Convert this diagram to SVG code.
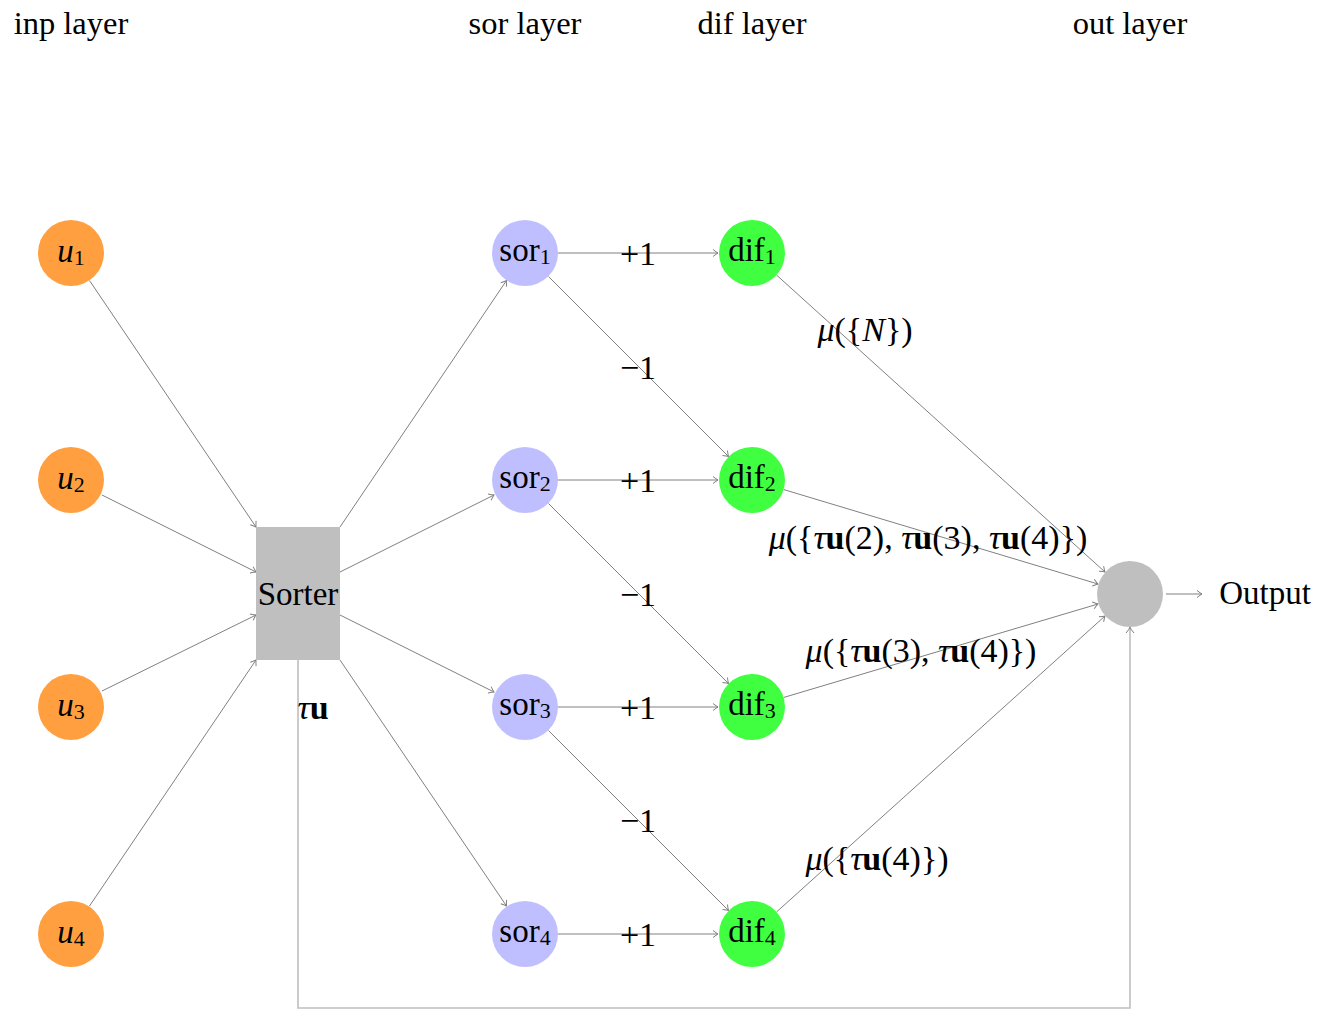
<svg xmlns="http://www.w3.org/2000/svg" width="1336" height="1010" viewBox="0 0 1336 1010">
<style>
text{font-family:"Liberation Serif","Times New Roman",serif;fill:#000;}
.lay{font-size:32.5px;text-anchor:middle;}
.nl{font-size:33px;text-anchor:middle;dominant-baseline:central;}
.el{font-size:34px;text-anchor:middle;dominant-baseline:central;}
.it{font-style:italic;}
.bf{font-weight:bold;}
.e{stroke:#808080;stroke-width:1;fill:none;marker-end:url(#ah);}
.fb{stroke:#bfbfbf;stroke-width:1.6;fill:none;}
.inp{fill:#ff9f40;}
.sor{fill:#bfbfff;}
.dif{fill:#40ff40;}
.gr{fill:#bfbfbf;}
</style>
<defs>
<marker id="ah" viewBox="-6 -5 8 10" refX="0" refY="0" markerWidth="8" markerHeight="10" markerUnits="userSpaceOnUse" orient="auto">
<path d="M-5,-3.5 Q-1.5,-0.8 0,0 Q-1.5,0.8 -5,3.5" fill="none" stroke="#808080" stroke-width="1"/>
</marker>
</defs>
<g id="layer-labels">
<text class="lay" x="71" y="34">inp layer</text>
<text class="lay" x="525" y="34">sor layer</text>
<text class="lay" x="752" y="34">dif layer</text>
<text class="lay" x="1130" y="34">out layer</text>
</g>
<g id="connectors">
<line class="e" x1="89.5" y1="280.5" x2="256" y2="527"/>
<line class="e" x1="102" y1="495" x2="256" y2="572"/>
<line class="e" x1="102" y1="691" x2="256" y2="615"/>
<line class="e" x1="89.5" y1="906" x2="256" y2="660"/>
<line class="e" x1="340" y1="527" x2="506.5" y2="280.5"/>
<line class="e" x1="340" y1="572" x2="494" y2="495"/>
<line class="e" x1="340" y1="615" x2="494" y2="692"/>
<line class="e" x1="340" y1="660" x2="506.5" y2="906"/>
<line class="e" x1="558" y1="253" x2="718" y2="253"/>
<line class="e" x1="558" y1="480" x2="718" y2="480"/>
<line class="e" x1="558" y1="707" x2="718" y2="707"/>
<line class="e" x1="558" y1="934" x2="718" y2="934"/>
<line class="e" x1="548.5" y1="276.5" x2="728.5" y2="456.5"/>
<line class="e" x1="548.5" y1="503.5" x2="728.5" y2="683.5"/>
<line class="e" x1="548.5" y1="730.5" x2="728.5" y2="910.5"/>
<line class="e" x1="776.5" y1="275" x2="1105" y2="572"/>
<line class="e" x1="783.5" y1="489.5" x2="1098" y2="584"/>
<line class="e" x1="783.5" y1="697.5" x2="1098" y2="604"/>
<line class="e" x1="776.5" y1="912" x2="1105" y2="616"/>
<line class="e" x1="1166" y1="594" x2="1202" y2="594"/>
<polyline class="fb" points="298,660 298,1008 1130,1008 1130,628"/>
<path d="M1126,633 Q1129.2,629.5 1130,627 Q1130.8,629.5 1134,633" fill="none" stroke="#808080" stroke-width="1"/>
</g>
<g id="edge-labels">
<text class="el" x="638" y="253">+1</text>
<text class="el" x="638" y="480">+1</text>
<text class="el" x="638" y="707">+1</text>
<text class="el" x="638" y="934">+1</text>
<text class="el" x="638" y="367">−1</text>
<text class="el" x="638" y="594">−1</text>
<text class="el" x="638" y="820">−1</text>
<text class="el" x="865" y="329"><tspan class="it">μ</tspan>({<tspan class="it">N</tspan>})</text>
<text class="el" x="928" y="537"><tspan class="it">μ</tspan>({<tspan class="it">τ</tspan><tspan class="bf">u</tspan>(2), <tspan class="it">τ</tspan><tspan class="bf">u</tspan>(3), <tspan class="it">τ</tspan><tspan class="bf">u</tspan>(4)})</text>
<text class="el" x="921" y="650"><tspan class="it">μ</tspan>({<tspan class="it">τ</tspan><tspan class="bf">u</tspan>(3), <tspan class="it">τ</tspan><tspan class="bf">u</tspan>(4)})</text>
<text class="el" x="877" y="858"><tspan class="it">μ</tspan>({<tspan class="it">τ</tspan><tspan class="bf">u</tspan>(4)})</text>
<text class="el" x="313" y="707"><tspan class="it">τ</tspan><tspan class="bf">u</tspan></text>
</g>
<g id="u1"><circle class="inp" cx="71" cy="253" r="33"/><text class="nl" x="71" y="251"><tspan class="it">u</tspan><tspan font-size="22" dy="6">1</tspan></text></g>
<g id="u2"><circle class="inp" cx="71" cy="480" r="33"/><text class="nl" x="71" y="478"><tspan class="it">u</tspan><tspan font-size="22" dy="6">2</tspan></text></g>
<g id="u3"><circle class="inp" cx="71" cy="707" r="33"/><text class="nl" x="71" y="705"><tspan class="it">u</tspan><tspan font-size="22" dy="6">3</tspan></text></g>
<g id="u4"><circle class="inp" cx="71" cy="934" r="33"/><text class="nl" x="71" y="932"><tspan class="it">u</tspan><tspan font-size="22" dy="6">4</tspan></text></g>
<g id="sorter"><rect class="gr" x="256" y="527" width="84" height="133"/><text class="nl" x="298" y="594">Sorter</text></g>
<g id="sor1"><circle class="sor" cx="525" cy="253" r="33"/><text class="nl" x="525" y="250">sor<tspan font-size="22" dy="6">1</tspan></text></g>
<g id="sor2"><circle class="sor" cx="525" cy="480" r="33"/><text class="nl" x="525" y="477">sor<tspan font-size="22" dy="6">2</tspan></text></g>
<g id="sor3"><circle class="sor" cx="525" cy="707" r="33"/><text class="nl" x="525" y="704">sor<tspan font-size="22" dy="6">3</tspan></text></g>
<g id="sor4"><circle class="sor" cx="525" cy="934" r="33"/><text class="nl" x="525" y="931">sor<tspan font-size="22" dy="6">4</tspan></text></g>
<g id="dif1"><circle class="dif" cx="752" cy="253" r="33"/><text class="nl" x="752" y="250">dif<tspan font-size="22" dy="6">1</tspan></text></g>
<g id="dif2"><circle class="dif" cx="752" cy="480" r="33"/><text class="nl" x="752" y="477">dif<tspan font-size="22" dy="6">2</tspan></text></g>
<g id="dif3"><circle class="dif" cx="752" cy="707" r="33"/><text class="nl" x="752" y="704">dif<tspan font-size="22" dy="6">3</tspan></text></g>
<g id="dif4"><circle class="dif" cx="752" cy="934" r="33"/><text class="nl" x="752" y="931">dif<tspan font-size="22" dy="6">4</tspan></text></g>
<g id="out"><circle class="gr" cx="1130" cy="594" r="33"/></g>
<g id="output"><text class="nl" x="1265" y="593" font-size="35">Output</text></g>
</svg>
